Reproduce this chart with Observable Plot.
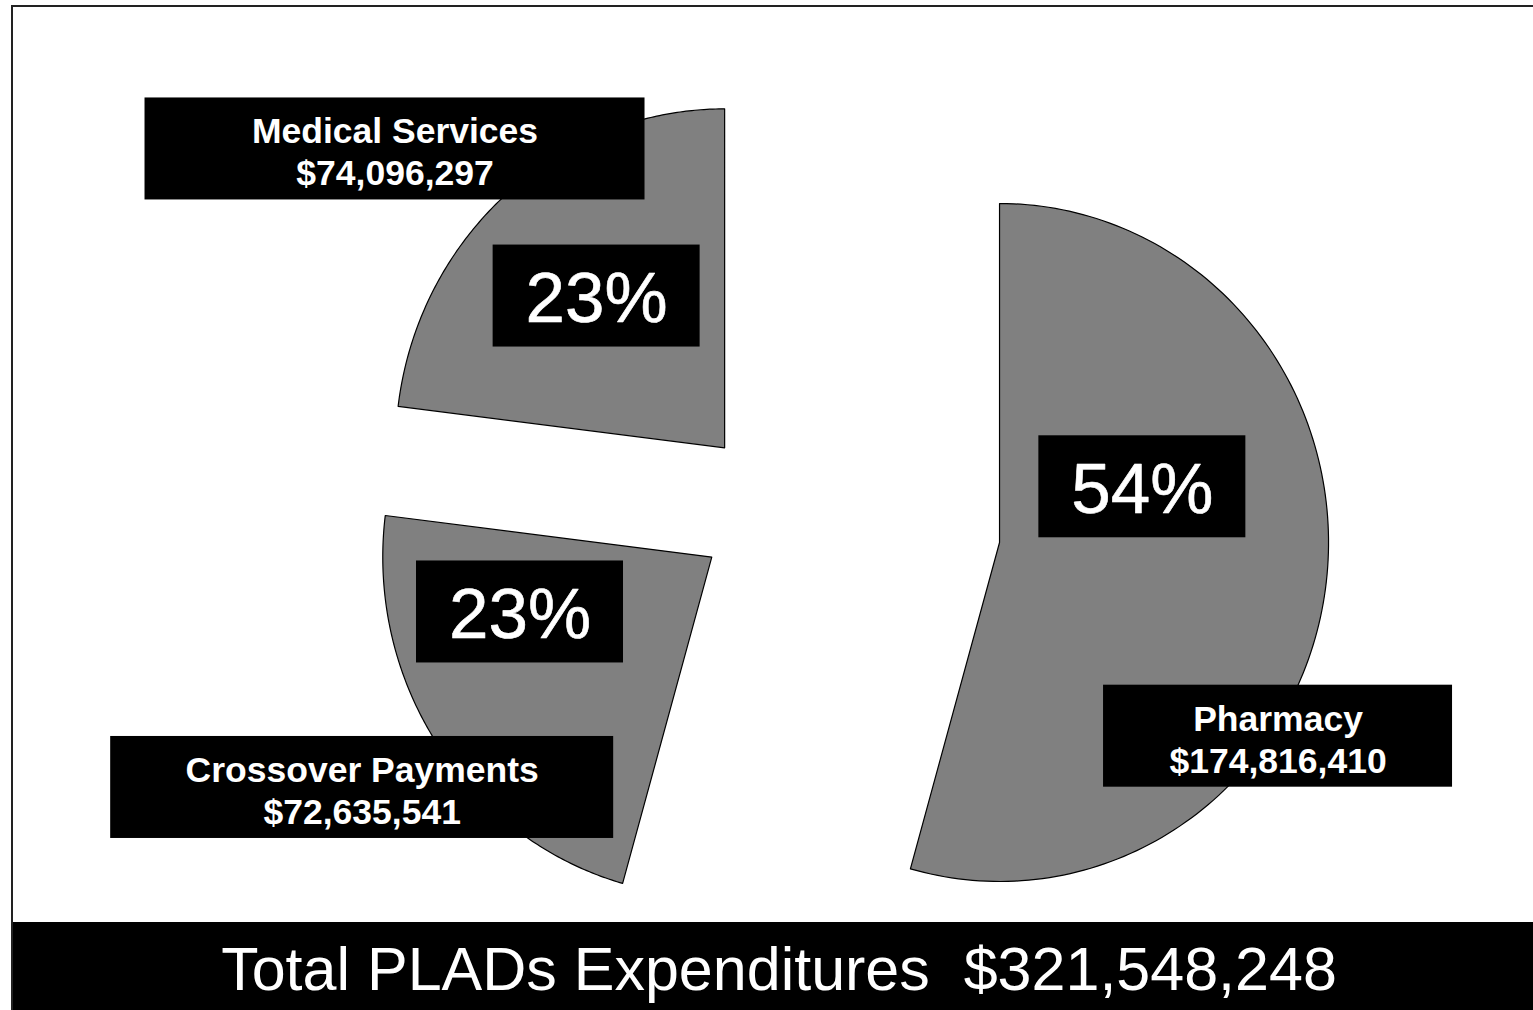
<!DOCTYPE html>
<html>
<head>
<meta charset="utf-8">
<script src="https://cdn.jsdelivr.net/npm/d3@7"></script>
<script src="https://cdn.jsdelivr.net/npm/@observablehq/plot@0.6"></script>
<style>
  html, body { margin: 0; padding: 0; background: #fff; }
  #page { position: relative; width: 1533px; height: 1010px; overflow: hidden; background: #fff; }
  #chart svg { display: block; }
  #caption {
    margin-left: 11px; width: 1536px; height: 85px; padding-top: 3px;
    background: #000; color: #fff; text-align: center; white-space: pre;
    font-family: "Liberation Sans", Arial, sans-serif; font-size: 61px; line-height: 88px;
  }
  #frame {
    position: absolute; left: 11px; top: 5px; width: 1600px; height: 1100px;
    border-top: 2px solid #222; border-left: 2px solid #222; pointer-events: none;
  }
</style>
</head>
<body>
<div id="page">
  <div id="chart"></div>
  <div id="caption"></div>
  <div id="frame"></div>
</div>
<script>
// ---- data ----
const categories = ["Pharmacy", "Crossover Payments", "Medical Services"];
const amounts = [174816410, 72635541, 74096297];
const captionLabel = "Total PLADs Expenditures";

// ---- layout (pie units: 1 = radius) ----
const W = 1533, H = 922;
const RX = 329, RY = 339;          // px per radius (horizontal / vertical)
const CX = 778.4, CY = 510.6;      // pie centre in px
const explode = [0.677, 0.245, 0.249];
const pctOffset = [[0.4341, 0.1643], [-0.5829, -0.1619], [-0.3891, 0.4478]];
const nameOffset = [[0.8465, -0.5714], [-1.0626, -0.6796], [-1.0019, 0.8817]];
const nameBoxW = [349, 503, 500];
const pctBoxW = 207, boxH = 102;
const FONT = "'Liberation Sans', Arial, sans-serif";

const total = d3.sum(amounts);
const fmt = d3.format(",");
const arcs = d3.pie().sort(null).value(d => d)(amounts);

const slicePts = [];
const boxes = [];
const nameLabels = [];
const pctLabels = [];
arcs.forEach((a, i) => {
  const mid = (a.startAngle + a.endAngle) / 2;
  const ax = explode[i] * Math.sin(mid);
  const ay = explode[i] * Math.cos(mid);
  slicePts.push({cat: categories[i], x: ax, y: ay});
  const n = 160;
  for (let k = 0; k <= n; k++) {
    const t = a.startAngle + (a.endAngle - a.startAngle) * k / n;
    slicePts.push({cat: categories[i], x: ax + Math.sin(t), y: ay + Math.cos(t)});
  }
  const px = ax + pctOffset[i][0], py = ay + pctOffset[i][1];
  const nx = ax + nameOffset[i][0], ny = ay + nameOffset[i][1];
  boxes.push({x1: px - pctBoxW / 2 / RX, x2: px + pctBoxW / 2 / RX, y1: py - boxH / 2 / RY, y2: py + boxH / 2 / RY});
  boxes.push({x1: nx - nameBoxW[i] / 2 / RX, x2: nx + nameBoxW[i] / 2 / RX, y1: ny - boxH / 2 / RY, y2: ny + boxH / 2 / RY});
  pctLabels.push({x: px, y: py, text: Math.round(amounts[i] / total * 100) + "%"});
  nameLabels.push({x: nx, y: ny, text: categories[i] + "\n$" + fmt(amounts[i])});
});

const chart = Plot.plot({
  width: W, height: H,
  margin: 0,
  style: {background: "#fff", fontFamily: FONT},
  x: {domain: [-CX / RX, (W - CX) / RX], axis: null},
  y: {domain: [(CY - H) / RY, CY / RY], axis: null},
  marks: [
    Plot.line(slicePts, {x: "x", y: "y", z: "cat", curve: "linear-closed",
      fill: "#808080", stroke: "#000", strokeWidth: 1.2}),
    Plot.rect(boxes, {x1: "x1", x2: "x2", y1: "y1", y2: "y2", fill: "#000", inset: 0}),
    Plot.text(pctLabels, {x: "x", y: "y", text: "text", fill: "#fff",
      fontSize: 71, fontFamily: FONT, dy: 3, stroke: "#fff", strokeWidth: 0.6}),
    Plot.text(nameLabels, {x: "x", y: "y", text: "text", fill: "#fff",
      fontSize: 35.5, fontWeight: "bold", fontFamily: FONT, lineHeight: 1.18, dy: 2})
  ]
});
document.getElementById("chart").appendChild(chart);
document.getElementById("caption").textContent = captionLabel + "  $" + fmt(total);
</script>
</body>
</html>
